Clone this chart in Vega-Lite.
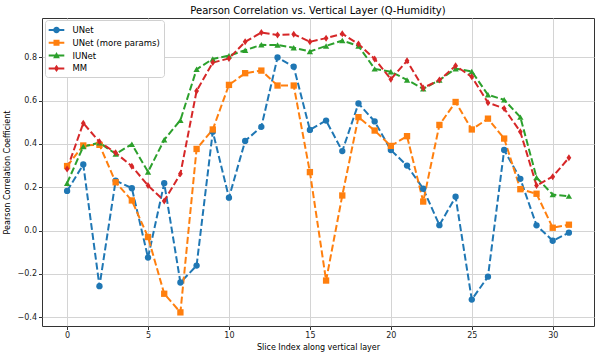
{
  "$schema": "https://vega.github.io/schema/vega-lite/v6.json",
  "autosize": {"type": "none"},
  "padding": {"left": 42, "top": 18, "right": 4, "bottom": 33},
  "width": 552,
  "height": 308,
  "background": "white",
  "title": {"text": "Pearson Correlation vs. Vertical Layer (Q-Humidity)", "font": "DejaVu Sans", "fontSize": 10, "fontWeight": "normal", "color": "#000", "offset": 2},
  "config": {
    "font": "DejaVu Sans",
    "view": {"stroke": "#333", "strokeWidth": 1},
    "axis": {"domain": false, "grid": true, "gridColor": "#d4d4d4", "gridWidth": 1, "tickColor": "#333", "tickSize": 3.5, "labelFontSize": 8, "labelColor": "#222", "titleFontSize": 8, "titleFontWeight": "normal", "titleColor": "#000", "labelPadding": 2}
  },
  "datasets": {
    "d": [
      {"x":0,"s":"UNet","y":0.183},{"x":1,"s":"UNet","y":0.305},{"x":2,"s":"UNet","y":-0.257},{"x":3,"s":"UNet","y":0.231},{"x":4,"s":"UNet","y":0.196},{"x":5,"s":"UNet","y":-0.125},{"x":6,"s":"UNet","y":0.219},{"x":7,"s":"UNet","y":-0.24},{"x":8,"s":"UNet","y":-0.162},{"x":9,"s":"UNet","y":0.457},{"x":10,"s":"UNet","y":0.152},{"x":11,"s":"UNet","y":0.414},{"x":12,"s":"UNet","y":0.479},{"x":13,"s":"UNet","y":0.8},{"x":14,"s":"UNet","y":0.757},{"x":15,"s":"UNet","y":0.465},{"x":16,"s":"UNet","y":0.508},{"x":17,"s":"UNet","y":0.367},{"x":18,"s":"UNet","y":0.587},{"x":19,"s":"UNet","y":0.504},{"x":20,"s":"UNet","y":0.372},{"x":21,"s":"UNet","y":0.3},{"x":22,"s":"UNet","y":0.193},{"x":23,"s":"UNet","y":0.025},{"x":24,"s":"UNet","y":0.156},{"x":25,"s":"UNet","y":-0.319},{"x":26,"s":"UNet","y":-0.213},{"x":27,"s":"UNet","y":0.372},{"x":28,"s":"UNet","y":0.239},{"x":29,"s":"UNet","y":0.024},{"x":30,"s":"UNet","y":-0.047},{"x":31,"s":"UNet","y":-0.01},
      {"x":0,"s":"UNet (more params)","y":0.298},{"x":1,"s":"UNet (more params)","y":0.393},{"x":2,"s":"UNet (more params)","y":0.396},{"x":3,"s":"UNet (more params)","y":0.223},{"x":4,"s":"UNet (more params)","y":0.139},{"x":5,"s":"UNet (more params)","y":-0.03},{"x":6,"s":"UNet (more params)","y":-0.292},{"x":7,"s":"UNet (more params)","y":-0.378},{"x":8,"s":"UNet (more params)","y":0.377},{"x":9,"s":"UNet (more params)","y":0.467},{"x":10,"s":"UNet (more params)","y":0.673},{"x":11,"s":"UNet (more params)","y":0.727},{"x":12,"s":"UNet (more params)","y":0.739},{"x":13,"s":"UNet (more params)","y":0.67},{"x":14,"s":"UNet (more params)","y":0.67},{"x":15,"s":"UNet (more params)","y":0.27},{"x":16,"s":"UNet (more params)","y":-0.231},{"x":17,"s":"UNet (more params)","y":0.162},{"x":18,"s":"UNet (more params)","y":0.524},{"x":19,"s":"UNet (more params)","y":0.462},{"x":20,"s":"UNet (more params)","y":0.391},{"x":21,"s":"UNet (more params)","y":0.436},{"x":22,"s":"UNet (more params)","y":0.134},{"x":23,"s":"UNet (more params)","y":0.488},{"x":24,"s":"UNet (more params)","y":0.594},{"x":25,"s":"UNet (more params)","y":0.467},{"x":26,"s":"UNet (more params)","y":0.517},{"x":27,"s":"UNet (more params)","y":0.425},{"x":28,"s":"UNet (more params)","y":0.191},{"x":29,"s":"UNet (more params)","y":0.17},{"x":30,"s":"UNet (more params)","y":0.013},{"x":31,"s":"UNet (more params)","y":0.027},
      {"x":0,"s":"IUNet","y":0.219},{"x":1,"s":"IUNet","y":0.388},{"x":2,"s":"IUNet","y":0.406},{"x":3,"s":"IUNet","y":0.354},{"x":4,"s":"IUNet","y":0.399},{"x":5,"s":"IUNet","y":0.271},{"x":6,"s":"IUNet","y":0.419},{"x":7,"s":"IUNet","y":0.51},{"x":8,"s":"IUNet","y":0.745},{"x":9,"s":"IUNet","y":0.793},{"x":10,"s":"IUNet","y":0.808},{"x":11,"s":"IUNet","y":0.833},{"x":12,"s":"IUNet","y":0.858},{"x":13,"s":"IUNet","y":0.857},{"x":14,"s":"IUNet","y":0.845},{"x":15,"s":"IUNet","y":0.827},{"x":16,"s":"IUNet","y":0.853},{"x":17,"s":"IUNet","y":0.878},{"x":18,"s":"IUNet","y":0.853},{"x":19,"s":"IUNet","y":0.747},{"x":20,"s":"IUNet","y":0.734},{"x":21,"s":"IUNet","y":0.696},{"x":22,"s":"IUNet","y":0.655},{"x":23,"s":"IUNet","y":0.695},{"x":24,"s":"IUNet","y":0.748},{"x":25,"s":"IUNet","y":0.735},{"x":26,"s":"IUNet","y":0.627},{"x":27,"s":"IUNet","y":0.604},{"x":28,"s":"IUNet","y":0.524},{"x":29,"s":"IUNet","y":0.245},{"x":30,"s":"IUNet","y":0.166},{"x":31,"s":"IUNet","y":0.159},
      {"x":0,"s":"MM","y":0.284},{"x":1,"s":"MM","y":0.496},{"x":2,"s":"MM","y":0.41},{"x":3,"s":"MM","y":0.359},{"x":4,"s":"MM","y":0.297},{"x":5,"s":"MM","y":0.208},{"x":6,"s":"MM","y":0.137},{"x":7,"s":"MM","y":0.262},{"x":8,"s":"MM","y":0.645},{"x":9,"s":"MM","y":0.776},{"x":10,"s":"MM","y":0.795},{"x":11,"s":"MM","y":0.872},{"x":12,"s":"MM","y":0.915},{"x":13,"s":"MM","y":0.904},{"x":14,"s":"MM","y":0.907},{"x":15,"s":"MM","y":0.872},{"x":16,"s":"MM","y":0.889},{"x":17,"s":"MM","y":0.909},{"x":18,"s":"MM","y":0.862},{"x":19,"s":"MM","y":0.793},{"x":20,"s":"MM","y":0.699},{"x":21,"s":"MM","y":0.784},{"x":22,"s":"MM","y":0.659},{"x":23,"s":"MM","y":0.695},{"x":24,"s":"MM","y":0.761},{"x":25,"s":"MM","y":0.71},{"x":26,"s":"MM","y":0.591},{"x":27,"s":"MM","y":0.564},{"x":28,"s":"MM","y":0.456},{"x":29,"s":"MM","y":0.208},{"x":30,"s":"MM","y":0.249},{"x":31,"s":"MM","y":0.336}
    ]
  },
  "data": {"name": "d"},
  "encoding": {
    "x": {"field": "x", "type": "quantitative", "title": "Slice Index along vertical layer",
          "scale": {"domain": [-1.55, 32.55], "nice": false, "zero": false},
          "axis": {"values": [0, 5, 10, 15, 20, 25, 30], "format": "d", "titlePadding": 4}},
    "y": {"field": "y", "type": "quantitative", "title": "Pearson Correlation Coefficient",
          "scale": {"domain": [-0.441, 0.982], "nice": false, "zero": false},
          "axis": {"values": [-0.4, -0.2, 0, 0.2, 0.4, 0.6, 0.8], "labelExpr": "replace(format(datum.value, '.1f'), '-', '−')", "titlePadding": 6}},
    "color": {"field": "s", "type": "nominal",
              "scale": {"domain": ["UNet", "UNet (more params)", "IUNet", "MM"], "range": ["#1f77b4", "#ff7f0e", "#2ca02c", "#d62728"]},
              "legend": {"title": null, "orient": "none", "legendX": 3, "legendY": 2, "fillColor": "white", "strokeColor": "#d0d0d0", "cornerRadius": 3, "padding": 4,
                         "labelFontSize": 8.5, "labelColor": "#000", "symbolSize": 144, "symbolStrokeWidth": 0, "rowPadding": 1.8, "labelOffset": 10, "symbolOffset": 1.5,
                         "encode": {"symbols": {"update": {"shape": {"signal": "datum.value === 'UNet' ? 'M-1.3,-0.17H1.3V0.17H-1.3Z M0.55,0A0.55,0.55 0 1,1 -0.55,0A0.55,0.55 0 1,1 0.55,0Z' : datum.value === 'UNet (more params)' ? 'M-1.3,-0.17H1.3V0.17H-1.3Z M-0.5,-0.5H0.5V0.5H-0.5Z' : datum.value === 'IUNet' ? 'M-1.3,-0.17H1.3V0.17H-1.3Z M0,-0.6L0.56,0.45H-0.56Z' : 'M-1.3,-0.17H1.3V0.17H-1.3Z M0,-0.62L0.42,0L0,0.62L-0.42,0Z'"}, "fill": {"signal": "scale('color', datum.value)"}, "strokeWidth": {"value": 0}, "opacity": {"value": 1}}}}}}
  },
  "layer": [
    {"mark": {"type": "line", "strokeWidth": 2, "strokeDash": [7, 3]}},
    {"transform": [{"filter": "datum.s === 'UNet'"}], "mark": {"type": "point", "filled": true, "opacity": 1, "size": 40, "shape": "circle"}},
    {"transform": [{"filter": "datum.s === 'UNet (more params)'"}], "mark": {"type": "point", "filled": true, "opacity": 1, "size": 40, "shape": "square"}},
    {"transform": [{"filter": "datum.s === 'IUNet'"}], "mark": {"type": "point", "filled": true, "opacity": 1, "size": 40, "shape": "triangle-up"}},
    {"transform": [{"filter": "datum.s === 'MM'"}], "mark": {"type": "point", "filled": true, "opacity": 1, "size": 49, "shape": "M0,-1L0.68,0L0,1L-0.68,0Z"}}
  ]
}
